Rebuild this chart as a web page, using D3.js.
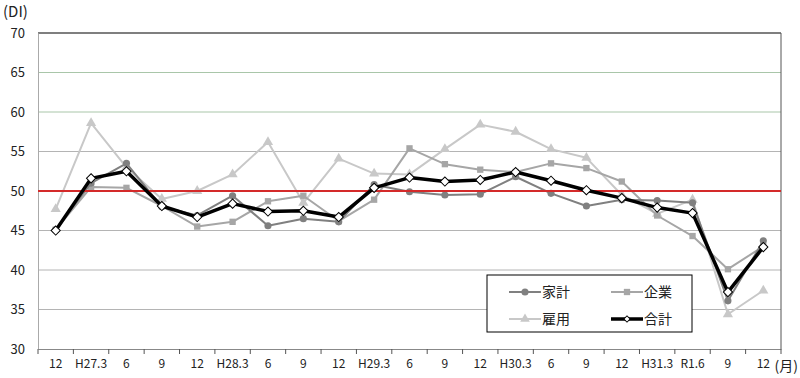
<!DOCTYPE html>
<html>
<head>
<meta charset="utf-8">
<script src="https://cdn.jsdelivr.net/npm/d3@7"></script>
<style>
body{margin:0;background:#fff;}
svg text{font-family:"Noto Sans CJK JP","Open Sans",sans-serif;fill:#222;}
</style>
</head>
<body>
<div class="chart"></div>
<script>
// x labels (survey months)
const labels = ["12","H27.3","6","9","12","H28.3","6","9","12","H29.3","6","9","12","H30.3","6","9","12","H31.3","R1.6","9","12"];
const yTicks = [30,35,40,45,50,55,60,65,70];

// series values
const kakei  = [45.1,51.0,53.5,48.0,46.9,49.4,45.6,46.5,46.1,50.8,49.9,49.5,49.6,51.8,49.7,48.1,48.9,48.8,48.5,36.1,43.7];
const kigyo  = [45.1,50.5,50.4,48.1,45.5,46.1,48.7,49.4,46.2,48.9,55.4,53.4,52.7,52.4,53.5,52.9,51.2,46.9,44.3,40.1,43.0];
const koyo   = [47.7,58.6,53.0,49.0,50.0,52.1,56.2,48.5,54.1,52.2,52.1,55.3,58.4,57.5,55.3,54.2,49.5,47.1,48.9,34.4,37.4];
const goukei = [45.0,51.6,52.5,48.1,46.7,48.4,47.4,47.5,46.7,50.4,51.7,51.2,51.4,52.4,51.3,50.1,49.1,47.9,47.2,37.2,42.9];

const series = [
  {name:"雇用", values:koyo,   color:"#c8c8c8", sym:d3.symbolTriangle, w:2},
  {name:"企業", values:kigyo,  color:"#a6a6a6", sym:d3.symbolSquare,   w:2},
  {name:"家計", values:kakei,  color:"#808080", sym:d3.symbolCircle,   w:2},
  {name:"合計", values:goukei, color:"#000",    sym:d3.symbolSquare,   w:3.5}
];

const margin = {left:38, right:19, top:33, bottom:29};
const outerWidth = 800, outerHeight = 378;
const width = outerWidth - margin.left - margin.right;
const height = outerHeight - margin.top - margin.bottom;

const svg = d3.select(".chart").append("svg")
  .attr("width", outerWidth)
  .attr("height", outerHeight);
const g = svg.append("g")
  .attr("transform", `translate(${margin.left}, ${margin.top})`);

const xScale = d3.scaleBand()
  .domain(d3.range(labels.length))
  .range([0, width]);
const yScale = d3.scaleLinear()
  .domain([30,70])
  .range([height, 0]);
const cx = i => xScale(i) + xScale.bandwidth()/2;

// gridlines
g.selectAll(".grid")
  .data(yTicks.filter(d => d > 30 && d < 70 && d !== 50))
  .enter().append("line")
  .attr("x1", 0).attr("x2", width)
  .attr("y1", d => yScale(d)).attr("y2", d => yScale(d))
  .attr("stroke", d => d >= 60 ? "#a9c6a9" : "#b4b4b4")
  .attr("stroke-width", 1);

// top border
g.append("line")
  .attr("x1", 0).attr("x2", width)
  .attr("y1", yScale(70)).attr("y2", yScale(70))
  .attr("stroke", "#7f7f7f").attr("stroke-width", 2);
// right border
g.append("line")
  .attr("x1", width).attr("x2", width)
  .attr("y1", 0).attr("y2", height)
  .attr("stroke", "#555").attr("stroke-width", 1);

// y axis
const yAxis = d3.axisLeft(yScale).tickValues(yTicks).tickSize(0).tickPadding(13);
g.append("g").attr("class","y-axis").call(yAxis)
  .call(a => a.select(".domain").attr("stroke","#aaa"))
  .selectAll("text").style("font-size","13px");

// x axis
const xAxis = d3.axisBottom(xScale).tickFormat(i => labels[i]).tickSize(0).tickPadding(10);
const xg = g.append("g").attr("class","x-axis")
  .attr("transform", `translate(0, ${height})`)
  .call(xAxis);
xg.select(".domain").attr("stroke","#888");
xg.selectAll("text").style("font-size","12px");
xg.selectAll(".sep")
  .data(d3.range(labels.length + 1))
  .enter().append("line")
  .attr("x1", i => i < labels.length ? xScale(i) : width)
  .attr("x2", i => i < labels.length ? xScale(i) : width)
  .attr("y1", 0).attr("y2", 5)
  .attr("stroke", "#555");

svg.append("text").attr("x", 3).attr("y", 17).style("font-size","15px").text("(DI)");
svg.append("text").attr("x", 798).attr("y", 371).attr("text-anchor","end")
  .style("font-size","14px").text("(月)");

const line = d3.line().x((d,i) => cx(i)).y(d => yScale(d));

function drawSeries(s){
  g.append("path")
    .datum(s.values)
    .attr("fill","none")
    .attr("stroke", s.color)
    .attr("stroke-width", s.w)
    .attr("stroke-linejoin","round")
    .attr("d", line);
  const isTotal = s.name === "合計";
  g.selectAll(null)
    .data(s.values)
    .enter().append("path")
    .attr("d", d3.symbol().type(s.sym).size(isTotal ? 42 : (s.sym === d3.symbolTriangle ? 45 : 40)))
    .attr("transform", (d,i) => `translate(${cx(i)},${yScale(d)})` + (isTotal ? " rotate(45)" : ""))
    .attr("fill", isTotal ? "#fff" : s.color)
    .attr("stroke", isTotal ? "#000" : "none")
    .attr("stroke-width", 1);
}

series.slice(0,3).forEach(drawSeries);

// reference line at 50
g.append("line")
  .attr("x1", 0).attr("x2", width)
  .attr("y1", yScale(50)).attr("y2", yScale(50))
  .attr("stroke", "#d42a2a").attr("stroke-width", 2);

drawSeries(series[3]);

// legend
const legend = svg.append("g").attr("transform","translate(487,275)");
legend.append("rect")
  .attr("width",205).attr("height",57)
  .attr("fill","#fff").attr("stroke","#000").attr("stroke-width",1);
const legendOrder = [series[2], series[1], series[0], series[3]];
legendOrder.forEach((s,k) => {
  const lx = (k % 2) * 102 + 22;
  const ly = k < 2 ? 17 : 44;
  const isTotal = s.name === "合計";
  legend.append("line")
    .attr("x1", lx).attr("x2", lx + 32)
    .attr("y1", ly).attr("y2", ly)
    .attr("stroke", s.color).attr("stroke-width", s.w);
  legend.append("path")
    .attr("d", d3.symbol().type(s.sym).size(isTotal ? 20 : 40))
    .attr("transform", `translate(${lx+16},${ly})` + (isTotal ? " rotate(45)" : ""))
    .attr("fill", isTotal ? "#fff" : s.color)
    .attr("stroke", isTotal ? "#000" : "none");
  legend.append("text")
    .attr("x", lx + 33).attr("y", ly + 5)
    .style("font-size","14px")
    .text(s.name);
});
</script>
</body>
</html>
